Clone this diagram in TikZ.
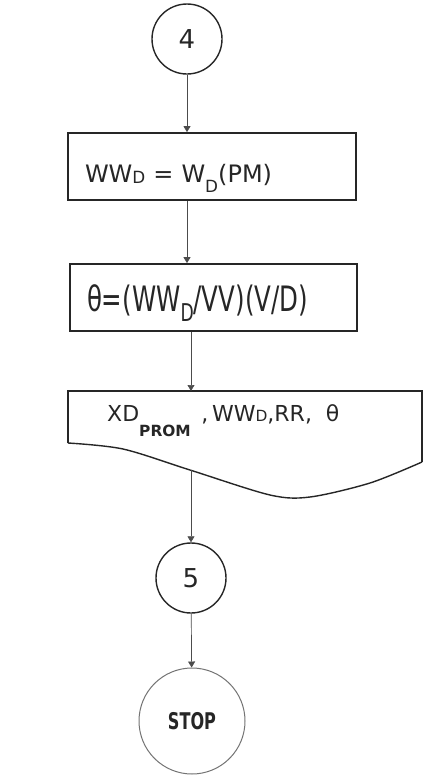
\documentclass[tikz,border=0pt]{standalone}
\usepackage{fontspec}
\usepackage{graphicx}
\setmainfont{DejaVu Sans}
\newfontfamily\leroy{DejaVu Sans}
\newfontfamily\leroynarrow[FakeStretch=0.7]{DejaVu Sans}
\usetikzlibrary{arrows.meta,calc,positioning}
\newcommand{\lowsub}[2][0.25em]{\raisebox{-#1}{\scalebox{0.7}{#2}}}

\begin{document}
\begin{tikzpicture}[x=1pt,y=-1pt,>={Triangle[width=7pt,length=6pt]},
  ink/.style={draw=black!85,text=black!85},
  conn/.style={ink,circle,line width=1.4pt,minimum size=70pt,inner sep=0pt,
    font=\leroy\fontsize{26}{30}\selectfont},
  procbox/.style={ink,rectangle,line width=1.8pt,minimum height=67pt,
    inner xsep=17pt,align=left},
  flow/.style={->,draw=black!70,line width=0.7pt}]
  \useasboundingbox (0,0) rectangle (425,782);
  % connectors and boxes
  \node[conn] (c4) at (187,39) {4};
  \node[procbox,minimum width=288pt,text width=254pt,text height=33pt,text depth=2pt,
    font=\leroy\fontsize{24}{28}\selectfont] (wd) at (212,166.5)
    {WW\lowsub[0.05em]{D} = W\lowsub[0.45em]{D}(PM)};
  \node[procbox,minimum width=287pt,text width=253pt,text height=30pt,text depth=3pt,
    font=\leroynarrow\fontsize{35}{40}\selectfont] (theta) at (213.5,297.5)
    {θ=(WW\lowsub[0.3em]{D}/VV)(V/D)};
  % output (document shape)
  \draw[ink,line width=1.8pt] (68,443) -- (68,391) -- (422,391) -- (422,462);
  \draw[ink,line width=1.4pt] plot[smooth] coordinates
    {(68,443) (123,449) (190,470) (270,495) (310,497) (370,483) (422,462)};
  \node[text=black!85,anchor=base west,inner sep=0pt,
    font=\leroy\fontsize{22}{26}\selectfont] (out) at (107,421)
    {XD\lowsub[0.72em]{\bfseries PROM}\ \,,\,WW\lowsub[0em]{D},RR,\ \ θ};
  \coordinate (outtop) at (191,391);
  \coordinate (wave) at (191,470);
  \node[conn] (c5) at (191,578) {5};
  \node[conn,draw=black!55,line width=1pt,minimum size=106pt,
    font=\leroynarrow\bfseries\fontsize{23}{28}\selectfont] (stop) at (192,721) {STOP};
  % flow lines
  \draw[flow] (c4) -- (c4 |- wd.north);
  \draw[flow] (c4 |- wd.south) -- (c4 |- theta.north);
  \draw[flow] (c5 |- theta.south) -- (outtop);
  \draw[flow] (wave) -- (c5);
  \draw[flow] (c5) -- (stop);
\end{tikzpicture}
\end{document}
